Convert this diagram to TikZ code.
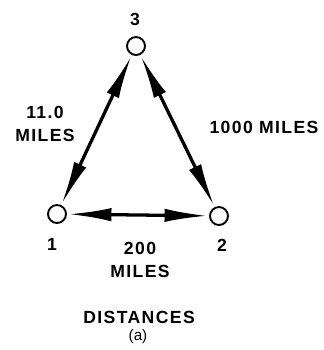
\documentclass[tikz,border=0pt]{standalone}
\usepackage{fontspec}
\setsansfont{Liberation Sans}
\usetikzlibrary{arrows.meta,positioning}

\begin{document}
\begin{tikzpicture}[x=0.03cm, y=-0.03cm, font=\sffamily\bfseries\fontsize{15}{17}\selectfont\addfontfeature{LetterSpace=8}]
    % Styles
    \tikzset{site/.style={circle, draw, line width=1.6pt, fill=white, minimum size=0.54cm, inner sep=0pt}}
    \tikzset{link/.style={line width=2.8pt, {Latex[length=1.3cm, width=0.4cm]}-{Latex[length=1.3cm, width=0.4cm]}, shorten <=1pt, shorten >=1pt}}
    \tikzset{lbl/.style={align=center, inner sep=0pt}}

    \useasboundingbox (0,0) rectangle (323,350);

    % Nodes
    \node [site] (n3) at (136,46) {};
    \node [site] (n1) at (57,214) {};
    \node [site] (n2) at (219,216) {};
    \node [lbl] (t3) at (135,19) {3};
    \node [lbl] (t1) at (52,244) {1};
    \node [lbl] (t2) at (222,245) {2};

    % Arrows
    \draw [link] (n3) -- (n1);
    \draw [link] (n3) -- (n2);
    \draw [link] (n1) -- (n2);

    % Labels
    \node [lbl] (d31) at (45,124) {11.0\\[3pt]MILES};
    \node [lbl] (d32) at (264,127) {1000 MILES};
    \node [lbl] (d12) at (140,260) {200\\[3pt]MILES};
    \node [lbl] (cap) at (139,317) {DISTANCES};
    \node [lbl, font=\sffamily\fontsize{13}{15}\selectfont] (sub) at (138,337) {(a)};
\end{tikzpicture}
\end{document}
